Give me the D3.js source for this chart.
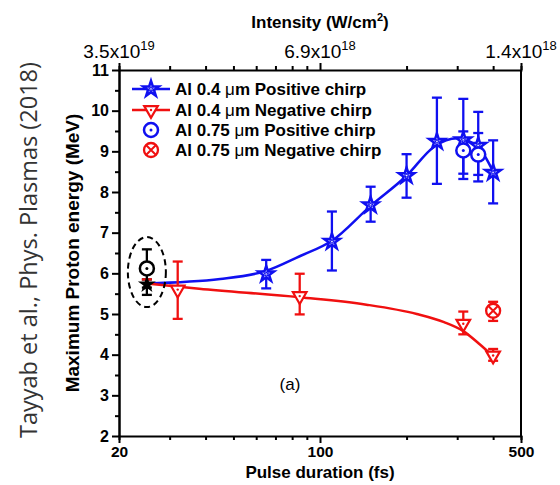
<!DOCTYPE html>
<html>
<head>
<meta charset="utf-8">
<script src="https://cdn.jsdelivr.net/npm/d3@7"></script>
<style>
  body { margin: 0; background: #fff; }
  svg { font-family: "Liberation Sans", Arial, sans-serif; }
</style>
</head>
<body>
<script>
/* proton energy vs pulse duration */

// transform-limited shot (black star / black circle)
var tlDur = [25];
var tlStarE = [5.73];
var tlStarLo = [5.47];
var tlStarHi = [5.85];
var tlCircE = [6.12];
var tlCircLo = [5.65];
var tlCircHi = [6.59];

// Al 0.4 um positive chirp
var posDur = [65, 110, 150, 200, 255, 315, 355, 400];
var posE   = [5.98, 6.78, 7.68, 8.40, 9.24, 9.28, 9.14, 8.48];
var posLo  = [5.63, 6.07, 7.27, 7.86, 8.20, 8.32, 8.26, 7.72];
var posHi  = [6.33, 7.52, 8.13, 8.93, 10.32, 10.29, 9.97, 9.27];

// Al 0.4 um negative chirp
var negDur = [32, 85, 315, 400];
var negE   = [5.60, 5.44, 4.76, 3.98];
var negLo  = [4.88, 4.99, 4.50, 3.85];
var negHi  = [6.29, 5.99, 5.06, 4.14];

// Al 0.75 um positive chirp
var thPosDur = [315, 355];
var thPosE   = [9.02, 8.92];
var thPosLo  = [8.45, 8.42];
var thPosHi  = [9.49, 9.45];

// Al 0.75 um negative chirp
var thNegDur = [400];
var thNegE   = [5.08];
var thNegLo  = [4.83];
var thNegHi  = [5.30];

// fit curves
var posFitDur = [25, 45, 65, 85, 110, 150, 200, 250, 300, 355, 400];
var posFitE   = [5.75, 5.86, 6.06, 6.42, 6.80, 7.66, 8.40, 9.12, 9.32, 9.10, 8.50];
var negFitDur = [25, 38, 85, 145, 217, 270, 315, 360, 400];
var negFitE   = [5.75, 5.62, 5.41, 5.23, 5.00, 4.80, 4.58, 4.25, 3.96];

// axes
var xTicks = [20, 30, 40, 50, 60, 70, 80, 90, 100, 200, 300, 400, 500];
var xMajor = [20, 100, 500];
var yMajor = [2, 3, 4, 5, 6, 7, 8, 9, 10, 11];
var yMinor = [2.5, 3.5, 4.5, 5.5, 6.5, 7.5, 8.5, 9.5, 10.5];
var topMant = ["3.5", "6.9", "1.4"];
var topExp = ["19", "18", "18"];

var legendNames = ["Al 0.4 ", "Al 0.4 ", "Al 0.75 ", "Al 0.75 "];
var legendTails = ["m Positive chirp", "m Negative chirp", "m Positive chirp", "m Negative chirp"];

var BLUE = "#1010f0", RED = "#f01010";

var svg = d3.select("body").append("svg")
    .attr("width", 560)
    .attr("height", 485);

var x = d3.scaleLog().domain([20, 500]).range([119, 521]);
var y = d3.scaleLinear().domain([2, 11]).range([436, 70]);

// watermark
svg.append("text")
    .attr("transform", "translate(37,250) rotate(-90)")
    .attr("text-anchor", "middle")
    .style("font-family", "'Open Sans', sans-serif")
    .style("font-size", "23.5px")
    .attr("fill", "#333")
    .text("Tayyab et al., Phys. Plasmas (2018)");

// fit lines
var line = d3.line().curve(d3.curveMonotoneX)
    .x(function(d){ return x(d[0]); })
    .y(function(d){ return y(d[1]); });

svg.append("path")
    .attr("d", line(posFitDur.map(function(d,i){ return [d, posFitE[i]]; })))
    .attr("fill", "none").attr("stroke", BLUE).attr("stroke-width", 2.5);
svg.append("path")
    .attr("d", line(negFitDur.map(function(d,i){ return [d, negFitE[i]]; })))
    .attr("fill", "none").attr("stroke", RED).attr("stroke-width", 2.5);

// dashed ellipse around TL shot
svg.append("ellipse")
    .attr("cx", x(tlDur[0])).attr("cy", y(6.03))
    .attr("rx", 19).attr("ry", 35)
    .attr("fill", "none").attr("stroke", "#000")
    .attr("stroke-width", 2).attr("stroke-dasharray", "6,4");

function errBars(dur, lo, hi, color){
    var g = svg.append("g").attr("stroke", color).attr("stroke-width", 2.3);
    dur.forEach(function(d, i){
        var cx = x(d);
        g.append("line").attr("x1", cx).attr("x2", cx).attr("y1", y(lo[i])).attr("y2", y(hi[i]));
        g.append("line").attr("x1", cx-5).attr("x2", cx+5).attr("y1", y(lo[i])).attr("y2", y(lo[i]));
        g.append("line").attr("x1", cx-5).attr("x2", cx+5).attr("y1", y(hi[i])).attr("y2", y(hi[i]));
    });
}

errBars(tlDur, tlCircLo, tlCircHi, "#000");
errBars(tlDur, tlStarLo, tlStarHi, "#000");
errBars(posDur, posLo, posHi, BLUE);
errBars(negDur, negLo, negHi, RED);
errBars(thPosDur, thPosLo, thPosHi, BLUE);
errBars(thNegDur, thNegLo, thNegHi, RED);
// red cap on top of TL shot
svg.append("line")
    .attr("x1", x(tlDur[0]) - 5).attr("x2", x(tlDur[0]) + 5)
    .attr("y1", y(tlStarHi[0])).attr("y2", y(tlStarHi[0]))
    .attr("stroke", RED).attr("stroke-width", 2.3);

// marker painters
var bigStar = d3.symbol().type(d3.symbolStar).size(75);
var blackStar = d3.symbol().type(d3.symbolStar).size(100);
var smallStar = d3.symbol().type(d3.symbolStar).size(7);
var tri = d3.symbol().type(d3.symbolTriangle).size(80);

function starMark(g, cx, cy, color){
    g.append("path").attr("d", bigStar()).attr("transform", "translate(" + cx + "," + cy + ")")
        .attr("fill", "#fff").attr("stroke", color).attr("stroke-width", 2.5)
        .attr("stroke-linejoin", "miter");
    g.append("path").attr("d", smallStar()).attr("transform", "translate(" + cx + "," + cy + ")")
        .attr("fill", "none").attr("stroke", color).attr("stroke-width", 1);
}
function triMark(g, cx, cy, color){
    g.append("path").attr("d", tri()).attr("transform", "translate(" + cx + "," + cy + ") rotate(180)")
        .attr("fill", "#fff").attr("stroke", color).attr("stroke-width", 2.2);
    g.append("circle").attr("cx", cx).attr("cy", cy).attr("r", 1.2).attr("fill", color);
}
function circMark(g, cx, cy, color){
    g.append("circle").attr("cx", cx).attr("cy", cy).attr("r", 7)
        .attr("fill", "#fff").attr("stroke", color).attr("stroke-width", 2.5);
    g.append("circle").attr("cx", cx).attr("cy", cy).attr("r", 1.5).attr("fill", color);
}
function crossMark(g, cx, cy, color){
    g.append("circle").attr("cx", cx).attr("cy", cy).attr("r", 7)
        .attr("fill", "#fff").attr("stroke", color).attr("stroke-width", 2.3);
    g.append("path").attr("d", "M" + (cx-5) + "," + (cy-5) + "L" + (cx+5) + "," + (cy+5) +
            "M" + (cx-5) + "," + (cy+5) + "L" + (cx+5) + "," + (cy-5))
        .attr("stroke", color).attr("stroke-width", 2);
}

var marks = svg.append("g");
negDur.forEach(function(d, i){ triMark(marks, x(d), y(negE[i]), RED); });
posDur.forEach(function(d, i){ starMark(marks, x(d), y(posE[i]), BLUE); });
thPosDur.forEach(function(d, i){ circMark(marks, x(d), y(thPosE[i]), BLUE); });
thNegDur.forEach(function(d, i){ crossMark(marks, x(d), y(thNegE[i]), RED); });
tlDur.forEach(function(d, i){
    circMark(marks, x(d), y(tlCircE[i]), "#000");
    marks.append("path").attr("d", blackStar())
        .attr("transform", "translate(" + x(d) + "," + y(tlStarE[i]) + ")")
        .attr("fill", "#000");
});

// axes
function styleAxis(g){
    g.select(".domain").attr("stroke-width", 2);
    g.selectAll(".tick line").attr("stroke-width", 2);
}
var axB = svg.append("g").attr("transform", "translate(0,436)")
    .call(d3.axisBottom(x).tickValues(xTicks).tickSizeOuter(0)
        .tickSize(4).tickFormat(function(d){ return xMajor.indexOf(d) >= 0 ? d : ""; }));
axB.selectAll(".tick").filter(function(d){ return xMajor.indexOf(d) >= 0; })
    .select("line").attr("y2", 7);
axB.selectAll(".tick text").attr("y", 10)
    .style("font-size", "15.5px").style("font-weight", "bold").attr("fill", "#000");
styleAxis(axB);

var axT = svg.append("g").attr("transform", "translate(0,70)")
    .call(d3.axisTop(x).tickValues(xTicks).tickSizeOuter(0).tickSize(4).tickFormat(""));
axT.selectAll(".tick").filter(function(d){ return xMajor.indexOf(d) >= 0; })
    .select("line").attr("y2", -7);
styleAxis(axT);

var topLab = svg.append("g");
xMajor.forEach(function(d, i){
    var t = topLab.append("text")
        .attr("x", x(d)).attr("y", 58)
        .attr("text-anchor", "middle")
        .style("font-size", "19px");
    t.append("tspan").text(topMant[i] + "x10");
    t.append("tspan").attr("dy", -8).style("font-size", "13px").text(topExp[i]);
});

var axL = svg.append("g").attr("transform", "translate(119,0)")
    .call(d3.axisLeft(y).tickValues(yMajor).tickSize(7).tickSizeOuter(0).tickFormat(d3.format("d")));
axL.selectAll(".tick text").attr("x", -10)
    .style("font-size", "16px").style("font-weight", "bold").attr("fill", "#000");
styleAxis(axL);
var axLm = svg.append("g").attr("transform", "translate(119,0)")
    .call(d3.axisLeft(y).tickValues(yMinor).tickSize(4).tickSizeOuter(0).tickFormat(""));
styleAxis(axLm);

svg.append("line")
    .attr("x1", 521).attr("x2", 521).attr("y1", 70).attr("y2", 436)
    .attr("stroke", "#000").attr("stroke-width", 2);

// titles
svg.append("text")
    .attr("x", 320).attr("y", 478)
    .attr("text-anchor", "middle")
    .style("font-size", "17px").style("font-weight", "bold")
    .text("Pulse duration (fs)");

var it = svg.append("text")
    .attr("x", 320).attr("y", 28)
    .attr("text-anchor", "middle")
    .style("font-size", "17px").style("font-weight", "bold");
it.append("tspan").text("Intensity (W/cm");
it.append("tspan").attr("dy", -7).style("font-size", "11px").text("2");
it.append("tspan").attr("dy", 7).text(")");

svg.append("text")
    .attr("transform", "translate(79,253) rotate(-90)")
    .attr("text-anchor", "middle")
    .style("font-size", "19px").style("font-weight", "bold")
    .text("Maximum Proton energy (MeV)");

svg.append("text")
    .attr("x", 290).attr("y", 390)
    .attr("text-anchor", "middle")
    .style("font-size", "17px")
    .text("(a)");

// legend
var leg = svg.append("g");
var legY = [89, 110, 130, 150];
legY.forEach(function(ly, i){
    if (i === 0) {
        leg.append("line").attr("x1", 132).attr("x2", 170).attr("y1", ly).attr("y2", ly)
            .attr("stroke", BLUE).attr("stroke-width", 2.5);
        starMark(leg, 151, ly, BLUE);
    } else if (i === 1) {
        leg.append("line").attr("x1", 132).attr("x2", 170).attr("y1", ly).attr("y2", ly)
            .attr("stroke", RED).attr("stroke-width", 2.5);
        triMark(leg, 151, ly, RED);
    } else if (i === 2) {
        circMark(leg, 151, ly, BLUE);
    } else {
        crossMark(leg, 151, ly, RED);
    }
    var t = leg.append("text").attr("x", 175).attr("y", ly + 6)
        .style("font-size", "17px").style("font-weight", "bold");
    t.append("tspan").text(legendNames[i]);
    t.append("tspan").style("font-weight", "normal").text("\u03bc");
    t.append("tspan").text(legendTails[i]);
});
</script>
</body>
</html>
